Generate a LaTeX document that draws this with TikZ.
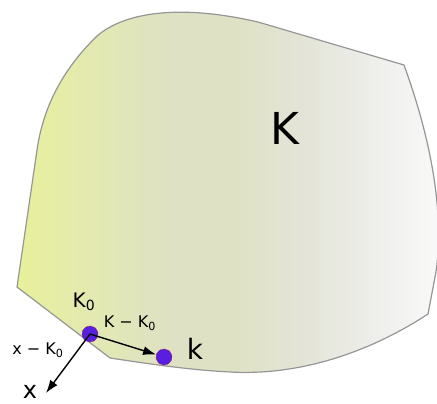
\documentclass[tikz,border=0pt]{standalone}
\usepackage{fontspec}
\setmainfont{DejaVu Sans}
\usetikzlibrary{arrows.meta}
\definecolor{c0}{RGB}{232,240,155}
\definecolor{c1}{RGB}{226,232,180}
\definecolor{c2}{RGB}{223,225,196}
\definecolor{c3}{RGB}{227,228,214}
\definecolor{c4}{RGB}{237,237,234}
\definecolor{c5}{RGB}{250,250,250}
\pgfdeclarehorizontalshading{kshade}{100bp}{color(0bp)=(c0); color(25bp)=(c0); color(35bp)=(c1); color(43bp)=(c2); color(50bp)=(c2); color(58bp)=(c3); color(66bp)=(c4); color(75bp)=(c5); color(100bp)=(c5)}
\definecolor{edgec}{RGB}{150,150,150}
\definecolor{dotc}{RGB}{88,30,225}
\definecolor{dotb}{RGB}{160,40,60}
\tikzset{
  region/.style={draw=edgec, line width=1.2pt, shading=kshade},
  dot/.style={circle, fill=dotc, draw=dotb, densely dashed, line width=0.5pt, minimum size=16pt, inner sep=0pt},
  arr/.style={line width=1.4pt, -{Latex[length=13pt,width=9pt]}},
  lbl/.style={inner sep=0pt, text=black}
}
\begin{document}
\begin{tikzpicture}[x=1pt,y=-1pt]
\useasboundingbox (0,0) rectangle (437,404);
\path[region] (17,287) -- (37,150) .. controls (43,108) and (62,70) .. (97,36)
  .. controls (125,12) and (180,4) .. (258,22) -- (404,65)
  .. controls (424,120) and (446,200) .. (436,272) -- (428,314)
  .. controls (370,352) and (300,376) .. (230,372)
  .. controls (190,370) and (150,364) .. (110,358) -- cycle;
\node[lbl, font=\fontsize{44}{44}\selectfont] (K) at (285,128) {K};
\node[dot] (k0) at (90,334) {};
\node[dot] (k) at (164,357) {};
\coordinate (xend) at (46,393);
\draw[arr] (k0.center) -- (k);
\draw[arr] (k0.center) -- (xend);
\node[lbl, font=\fontsize{20}{20}\selectfont] (k0l) at (84,302) {K\textsubscript{0}};
\node[lbl, font=\fontsize{16}{16}\selectfont] (kk0) at (130,323) {K − K\textsubscript{0}};
\node[lbl, font=\fontsize{16}{16}\selectfont] (xk0) at (38,350) {x − K\textsubscript{0}};
\node[lbl, font=\fontsize{24}{24}\selectfont] (xl) at (30,392) {x};
\node[lbl, font=\fontsize{28}{28}\selectfont] (kl) at (195,349) {k};
\end{tikzpicture}
\end{document}
